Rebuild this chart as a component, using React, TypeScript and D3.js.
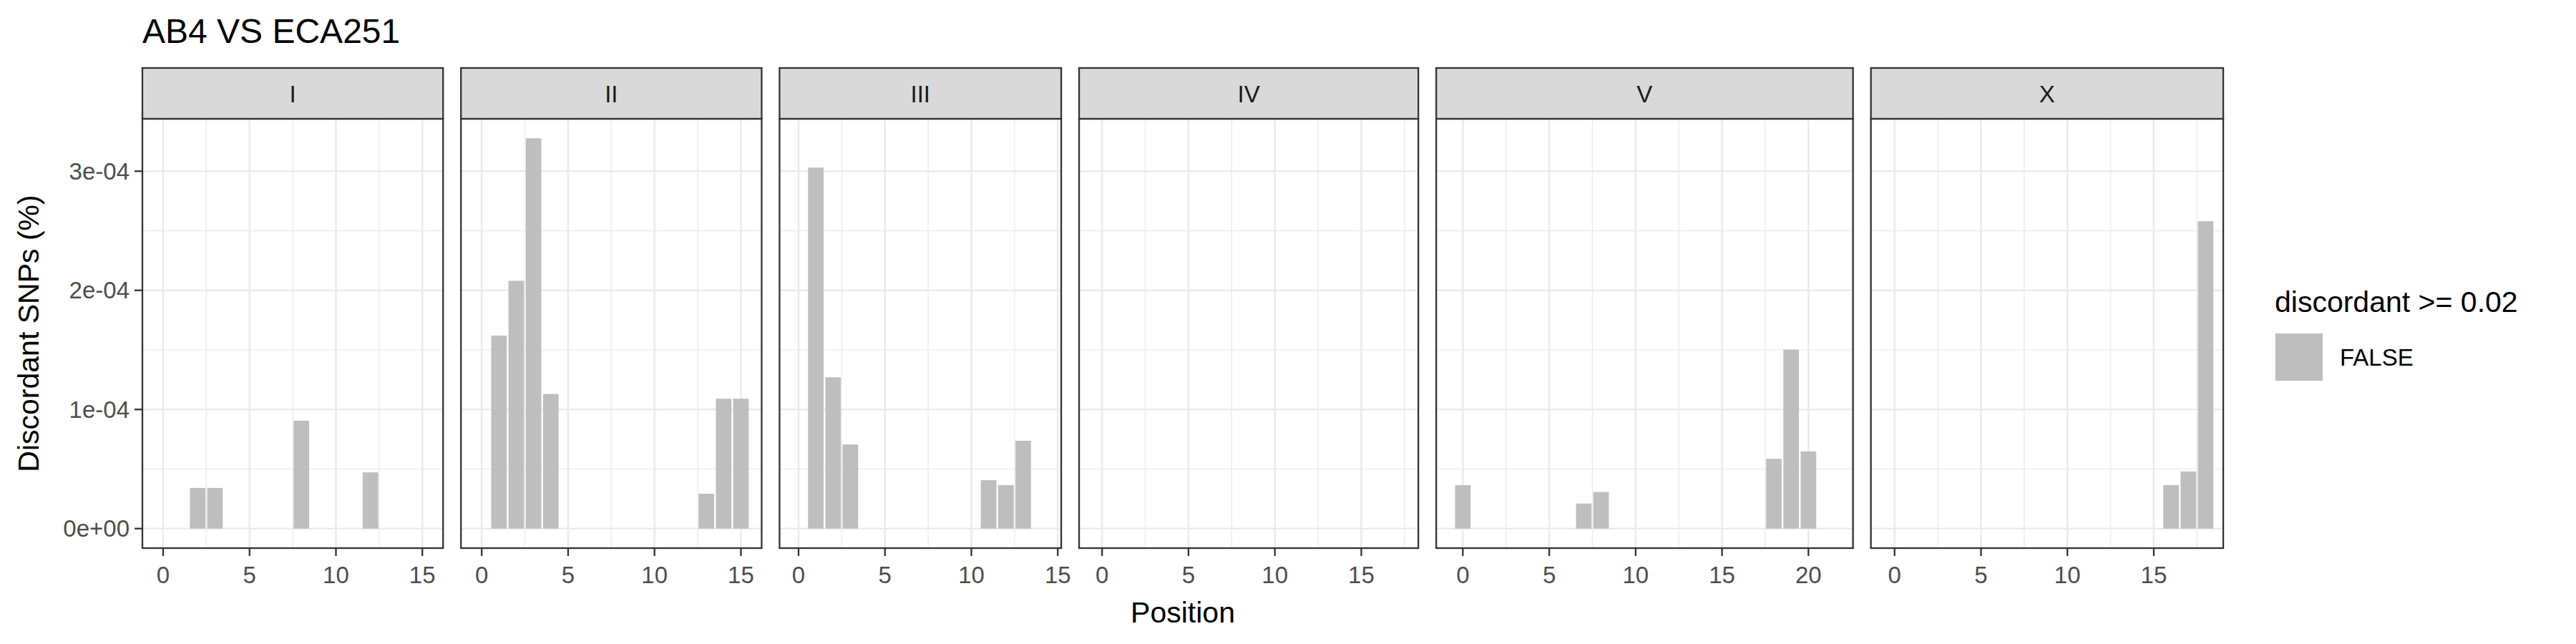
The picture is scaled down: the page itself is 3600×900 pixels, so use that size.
import * as d3 from "d3";

// chromosome facets, their expanded x limits, and binned bar values (x1e-4)
const chroms = ["I", "II", "III", "IV", "V", "X"];
const xLimits: [number, number][] = [
  [-1.2, 16.2],
  [-1.2, 16.2],
  [-1.1, 15.2],
  [-1.33, 18.3],
  [-1.54, 22.58],
  [-1.37, 19.02],
];
const xTicks = [
  [0, 5, 10, 15],
  [0, 5, 10, 15],
  [0, 5, 10, 15],
  [0, 5, 10, 15],
  [0, 5, 10, 15, 20],
  [0, 5, 10, 15],
];
const binsI = [{ p: 2, v: 0.341 }, { p: 3, v: 0.341 }, { p: 8, v: 0.906 }, { p: 12, v: 0.472 }];
const binsII = [
  { p: 1, v: 1.62 }, { p: 2, v: 2.08 }, { p: 3, v: 3.276 }, { p: 4, v: 1.13 },
  { p: 13, v: 0.293 }, { p: 14, v: 1.09 }, { p: 15, v: 1.09 },
];
const binsIII = [
  { p: 1, v: 3.03 }, { p: 2, v: 1.27 }, { p: 3, v: 0.706 },
  { p: 11, v: 0.406 }, { p: 12, v: 0.365 }, { p: 13, v: 0.737 },
];
const binsIV: { p: number; v: number }[] = [];
const binsV = [
  { p: 0, v: 0.365 }, { p: 7, v: 0.21 }, { p: 8, v: 0.307 },
  { p: 18, v: 0.586 }, { p: 19, v: 1.502 }, { p: 20, v: 0.648 },
];
const binsX = [{ p: 16, v: 0.365 }, { p: 17, v: 0.479 }, { p: 18, v: 2.58 }];
const bins = [binsI, binsII, binsIII, binsIV, binsV, binsX];
const yTicks = [0, 1, 2, 3];
const yTickLabels = ["0e+00", "1e-04", "2e-04", "3e-04"];

const W = 3600, H = 900;
const left = 199, gap = 25, pxPerUnit = 24.15;
const stripTop = 95, panelTop = 166, panelBottom = 766;
const font = "Liberation Sans, Arial, sans-serif";

export default function App() {
  const y = d3.scaleLinear().domain([-0.164, 3.44]).range([panelBottom, panelTop]);
  let x0 = left;
  const panels = chroms.map((c, i) => {
    const [a, b] = xLimits[i];
    const w = (b - a) * pxPerUnit;
    const x = d3.scaleLinear().domain([a, b]).range([x0, x0 + w]);
    x0 += w + gap;
    return { c, i, x, w };
  });
  const plotRight = x0 - gap;
  const yMinor = d3.range(-0.5, 3.6, 1).filter((v) => v > -0.164 && v < 3.44);

  return (
    <svg width={W} height={H} style={{ display: "block", position: "absolute", left: 0, top: 0, fontFamily: font }}>
      <rect width={W} height={H} fill="#fff" />
      <text x={left} y={60} fontSize={48}>AB4 VS ECA251</text>
      {panels.map(({ c, i, x }) => {
        const [a, b] = x.range();
        const dom = x.domain();
        const minorX = d3.range(-2.5, dom[1], 5).filter((v) => v > dom[0]);
        return (
          <g key={c}>
            {yMinor.map((v) => (
              <line key={"ym" + v} x1={a} x2={b} y1={y(v)} y2={y(v)} stroke="#EBEBEB" strokeWidth={1.3} />
            ))}
            {minorX.map((v) => (
              <line key={"xm" + v} x1={x(v)} x2={x(v)} y1={panelTop} y2={panelBottom} stroke="#EBEBEB" strokeWidth={1.3} />
            ))}
            {yTicks.map((v) => (
              <line key={"y" + v} x1={a} x2={b} y1={y(v)} y2={y(v)} stroke="#EBEBEB" strokeWidth={2.6} />
            ))}
            {xTicks[i].map((v) => (
              <line key={"x" + v} x1={x(v)} x2={x(v)} y1={panelTop} y2={panelBottom} stroke="#EBEBEB" strokeWidth={2.6} />
            ))}
            {bins[i].map((d) => (
              <rect key={d.p} x={x(d.p - 0.45)} width={x(d.p + 0.45) - x(d.p - 0.45)}
                y={y(d.v)} height={y(0) - y(d.v)} fill="#BEBEBE" />
            ))}
            <rect x={a} y={panelTop} width={b - a} height={panelBottom - panelTop} fill="none" stroke="#333" strokeWidth={2.3} />
            <rect x={a} y={stripTop} width={b - a} height={panelTop - stripTop} fill="#D9D9D9" stroke="#333" strokeWidth={2.3} />
            <text x={(a + b) / 2} y={131} dy="0.35em" textAnchor="middle" fontSize={33} fill="#1A1A1A">{c}</text>
            {xTicks[i].map((v) => (
              <g key={"t" + v}>
                <line x1={x(v)} x2={x(v)} y1={panelBottom} y2={panelBottom + 11} stroke="#333" strokeWidth={2.3} />
                <text x={x(v)} y={815} textAnchor="middle" fontSize={33} fill="#4D4D4D">{v}</text>
              </g>
            ))}
          </g>
        );
      })}
      {yTicks.map((v, k) => (
        <g key={"yl" + v}>
          <line x1={left - 11} x2={left} y1={y(v)} y2={y(v)} stroke="#333" strokeWidth={2.3} />
          <text x={left - 18} y={y(v)} dy="0.35em" textAnchor="end" fontSize={33} fill="#4D4D4D">{yTickLabels[k]}</text>
        </g>
      ))}
      <text x={(left + plotRight) / 2} y={870} textAnchor="middle" fontSize={41}>Position</text>
      <text transform={`translate(54,${(panelTop + panelBottom) / 2}) rotate(-90)`} textAnchor="middle" fontSize={41}>
        Discordant SNPs (%)
      </text>
      <text x={3179} y={436} fontSize={41}>discordant &gt;= 0.02</text>
      <rect x={3180} y={466} width={66} height={66} fill="#BEBEBE" />
      <text x={3270} y={499} dy="0.35em" fontSize={33}>FALSE</text>
    </svg>
  );
}
